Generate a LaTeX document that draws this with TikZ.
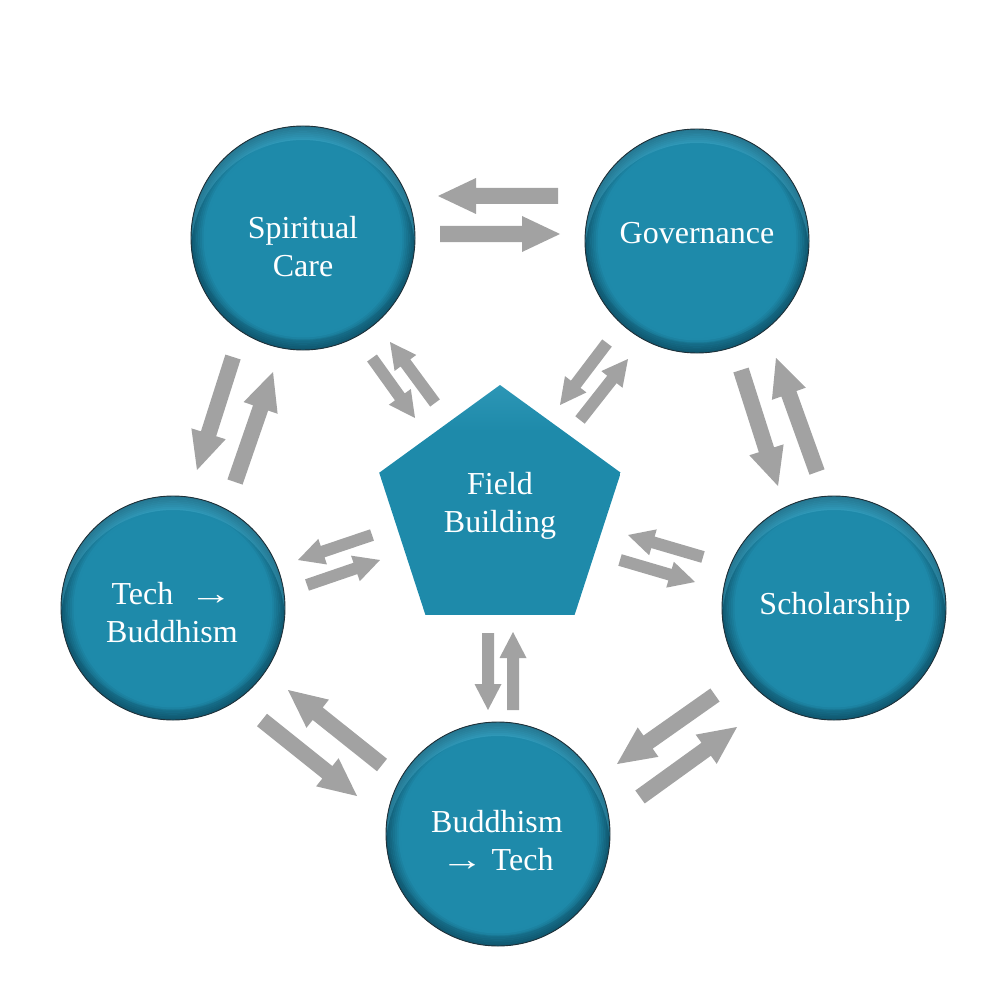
\documentclass[tikz,border=0pt]{standalone}
\usepackage{fontspec}
\usepackage{graphicx}
\setmainfont{Liberation Serif}
\usetikzlibrary{calc,shapes.geometric}
\definecolor{tealmid}{RGB}{30,138,170}
\definecolor{teallight}{RGB}{80,180,210}
\definecolor{tealdark}{RGB}{16,88,112}
\definecolor{tealedge}{RGB}{32,48,56}
\definecolor{arrowgray}{RGB}{162,162,162}
\pgfdeclareverticalshading{pentshade}{100bp}{color(0bp)=(tealdark!80!black); color(7bp)=(tealdark); color(18bp)=(tealmid); color(65bp)=(tealmid); color(100bp)=(teallight)}
\newcommand\BlockArrowDraw[5]{%
  \coordinate (hb) at ($(#2)!#5!(#1)$);
  \fill[arrowfill] ($(#1)!#3!90:(#2)$) -- ($(hb)!#3!90:(#2)$) -- ($(hb)!#4!90:(#2)$) -- (#2)
    -- ($(hb)!#4!-90:(#2)$) -- ($(hb)!#3!-90:(#2)$) -- ($(#1)!#3!-90:(#2)$) -- cycle;}
\newcommand\BigArr[2]{\BlockArrowDraw{#1}{#2}{8pt}{18pt}{38pt}}
\newcommand\SmallArr[2]{\BlockArrowDraw{#1}{#2}{6pt}{13.5pt}{26pt}}
\newcommand\LongArr{\scalebox{1.35}[1]{→}}
\newcommand\DiscLook[1]{%
  \begin{scope}
    \clip (#1.center) circle[radius=112pt];
    \foreach \k in {0,...,7}{%
      \pgfmathtruncatemacro\pc{\k*14}%
      \draw[line width=2.1pt, tealmid!\pc!tealdark] (#1.center) circle[radius={(111-1.8*\k)*1pt}];}
    \fill[teallight, opacity=0.35, even odd rule] (#1.center) circle[radius=112pt]
      ($(#1.center)+(0,14)$) circle[radius=112pt];
    \fill[tealdark, opacity=0.3, even odd rule] (#1.center) circle[radius=112pt]
      ($(#1.center)+(0,-10)$) circle[radius=112pt];
  \end{scope}
  \draw[tealedge, line width=0.9pt] (#1.center) circle[radius=112pt];}
\tikzset{
  disc/.style={circle, minimum size=224pt, inner sep=0pt, fill=tealmid},
  pentnode/.style={regular polygon, regular polygon sides=5, minimum size=254pt, inner sep=0pt,
    shading=pentshade},
  lbl/.style={text=white, font=\fontsize{32}{38}\selectfont, align=center, inner sep=0pt},
  arrowfill/.style={fill=arrowgray}
}
\begin{document}
\begin{tikzpicture}[x=1pt,y=-1pt]
\useasboundingbox (0,0) rectangle (1000,1000);
% shapes
\node[disc] (sc)  at (303,238) {};
\node[disc] (gov) at (697,241) {};
\node[disc] (tb)  at (173,608) {};
\node[disc] (sch) at (834,608) {};
\node[disc] (bt)  at (498,834) {};
\DiscLook{sc}\DiscLook{gov}\DiscLook{tb}\DiscLook{sch}\DiscLook{bt}
\node[pentnode] (fb) at (500,512) {};
% labels
\node[lbl] (scl)  at (303,247) {Spiritual\\Care};
\node[lbl] (govl) at (697,233) {Governance};
\node[lbl] (tbl)  at (172,613) {Tech~ \LongArr\\Buddhism};
\node[lbl] (schl) at (835,607) {Scholarship};
\node[lbl] (btl)  at (497,841) {Buddhism\\\LongArr\ Tech};
\node[lbl] (fbl)  at (500,506) {Field\\Building};
% arrow end coordinates
\coordinate (a1t) at (558,196); \coordinate (a1h) at (438,196);
\coordinate (a2t) at (440,234); \coordinate (a2h) at (560,234);
\coordinate (b1t) at (233,357); \coordinate (b1h) at (197,470);
\coordinate (b2t) at (235,482); \coordinate (b2h) at (273,372);
\coordinate (c1t) at (741,370); \coordinate (c1h) at (778,486);
\coordinate (c2t) at (817,472); \coordinate (c2h) at (776,358);
\coordinate (d1t) at (372,358); \coordinate (d1h) at (415,418);
\coordinate (d2t) at (435,403); \coordinate (d2h) at (390,342);
\coordinate (e1t) at (607,343); \coordinate (e1h) at (560,405);
\coordinate (e2t) at (580,420); \coordinate (e2h) at (628,359);
\coordinate (f1t) at (372,535); \coordinate (f1h) at (298,560);
\coordinate (f2t) at (307,585); \coordinate (f2h) at (380,560);
\coordinate (g1t) at (703,557); \coordinate (g1h) at (628,535);
\coordinate (g2t) at (620,560); \coordinate (g2h) at (695,582);
\coordinate (h1t) at (488,633); \coordinate (h1h) at (488,710);
\coordinate (h2t) at (513,710); \coordinate (h2h) at (513,632);
\coordinate (i1t) at (382,765); \coordinate (i1h) at (288,690);
\coordinate (i2t) at (262,720); \coordinate (i2h) at (357,796);
\coordinate (j1t) at (715,695); \coordinate (j1h) at (617,764);
\coordinate (j2t) at (640,797); \coordinate (j2h) at (737,727);
% arrows
\BigArr{a1t}{a1h} \BigArr{a2t}{a2h}
\BigArr{b1t}{b1h} \BigArr{b2t}{b2h}
\BigArr{c1t}{c1h} \BigArr{c2t}{c2h}
\SmallArr{d1t}{d1h} \SmallArr{d2t}{d2h}
\SmallArr{e1t}{e1h} \SmallArr{e2t}{e2h}
\SmallArr{f1t}{f1h} \SmallArr{f2t}{f2h}
\SmallArr{g1t}{g1h} \SmallArr{g2t}{g2h}
\SmallArr{h1t}{h1h} \SmallArr{h2t}{h2h}
\BigArr{i1t}{i1h} \BigArr{i2t}{i2h}
\BigArr{j1t}{j1h} \BigArr{j2t}{j2h}
\end{tikzpicture}
\end{document}
